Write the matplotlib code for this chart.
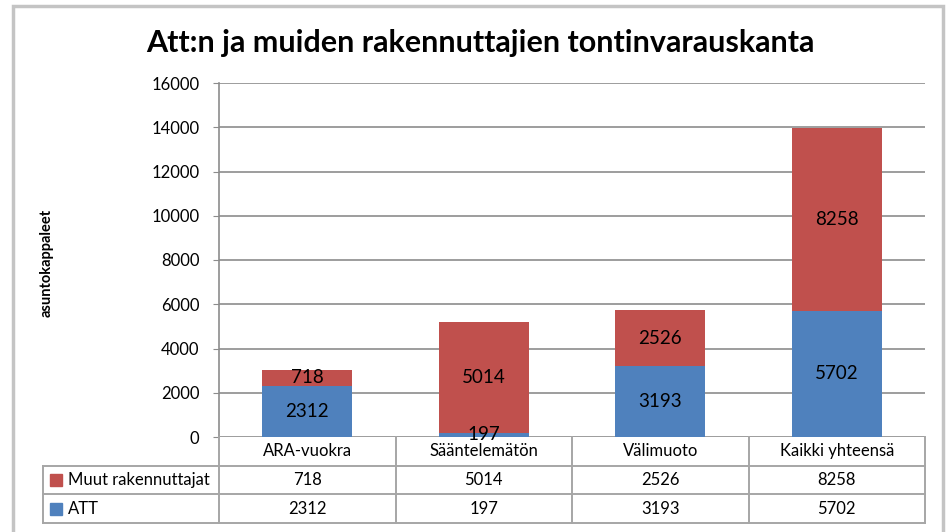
import matplotlib
matplotlib.use("Agg")
import matplotlib.pyplot as plt
from matplotlib.patches import Rectangle

plt.rcParams['font.family'] = ['Lato', 'DejaVu Sans']

title = "Att:n ja muiden rakennuttajien tontinvarauskanta"
ylabel = "asuntokappaleet"
categories = ["ARA-vuokra", "Sääntelemätön", "Välimuoto", "Kaikki yhteensä"]
series_names = ["Muut rakennuttajat", "ATT"]
att = [2312, 197, 3193, 5702]
muut = [718, 5014, 2526, 8258]
yticks = [0, 2000, 4000, 6000, 8000, 10000, 12000, 14000, 16000]

c_blue = "#4F81BD"
c_red = "#C0504D"
grid_c = "#8c8c8c"
tab_c = "#a6a6a6"

W, H = 947, 532
fig = plt.figure(figsize=(W / 100, H / 100), dpi=100)

def fx(px):
    return px / W

def fy(py):
    return 1 - py / H

# outer frame
fig.add_artist(Rectangle((fx(13), fy(540)), fx(943) - fx(13), fy(6) - fy(540),
                         transform=fig.transFigure, fill=False,
                         edgecolor="#c4c4c4", linewidth=2.5))

L, R, T, B = 219, 925, 83, 437
ax = fig.add_axes([fx(L), fy(B), fx(R) - fx(L), fy(T) - fy(B)])
x = list(range(len(categories)))
bw = 0.51
ax.bar(x, att, bw, color=c_blue, zorder=3)
ax.bar(x, muut, bw, bottom=att, color=c_red, zorder=3)
for i in x:
    ax.text(i, att[i] / 2, str(att[i]), ha="center", va="center", fontsize=13.5, zorder=4)
    ax.text(i, att[i] + muut[i] / 2, str(muut[i]), ha="center", va="center", fontsize=13.5, zorder=4)

ax.set_xlim(-0.5, len(categories) - 0.5)
ax.set_ylim(0, 16000)
ax.set_yticks(yticks)
ax.set_yticklabels([str(v) for v in yticks], fontsize=12)
ax.set_xticks([])
ax.grid(axis="y", color=grid_c, linewidth=1.2, zorder=0)
for s in ["top", "right", "bottom"]:
    ax.spines[s].set_visible(False)
ax.spines["left"].set_color(grid_c)
ax.spines["left"].set_linewidth(1.2)
ax.tick_params(axis="y", length=4, color=grid_c, pad=10)

fig.text(fx(480), fy(43), title, ha="center", va="center", fontsize=22, fontweight="bold")
fig.text(fx(47), fy(263), ylabel, ha="center", va="center", rotation=90, fontsize=10.5, fontweight="bold")

# data table
TL, TB = 43, 523
tax = fig.add_axes([fx(TL), fy(TB), fx(R) - fx(TL), fy(B) - fy(TB)])
unit = (R - L) / len(categories)
x0 = -0.5 - (L - TL) / unit
tax.set_xlim(x0, len(categories) - 0.5)
tax.set_ylim(3, 0)
tax.axis("off")
lkw = dict(color=tab_c, linewidth=1.4, clip_on=False)
for yy in [1, 2, 3]:
    tax.plot([x0, len(categories) - 0.5], [yy, yy], **lkw)
tax.plot([x0, x0], [1, 3], **lkw)
for k in range(len(categories) + 1):
    tax.plot([k - 0.5, k - 0.5], [0, 3], **lkw)
for i, c in enumerate(categories):
    tax.text(i, 0.5, c, ha="center", va="center", fontsize=12)
    tax.text(i, 1.5, str(muut[i]), ha="center", va="center", fontsize=12)
    tax.text(i, 2.5, str(att[i]), ha="center", va="center", fontsize=12)
sq = 12 / unit
for r, (name, col) in enumerate(zip(series_names, [c_red, c_blue])):
    tax.add_patch(Rectangle((x0 + 7 / unit, 1 + r + 0.3), sq, 0.42, color=col, clip_on=False))
    tax.text(x0 + 25 / unit, 1.5 + r, name, ha="left", va="center", fontsize=12)

fig.savefig("out.png", dpi=100)
